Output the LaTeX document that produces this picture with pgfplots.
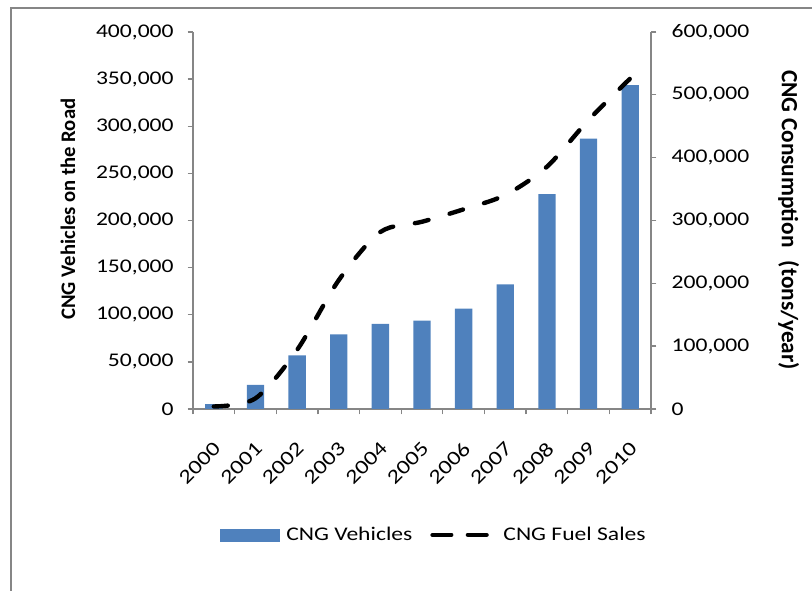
\documentclass[border=0pt]{standalone}
\usepackage{pgfplots}
\pgfplotsset{compat=1.18}
\usepackage{fontspec}
\setmainfont{Carlito}[FakeStretch=1.22]
\newfontfamily\labfont{Carlito}
\definecolor{barblue}{HTML}{4F81BD}
\definecolor{axgray}{HTML}{868686}
\newcommand{\tickfont}{\fontsize{14.5}{17}\selectfont}
\begin{document}
\begin{tikzpicture}[x=0.75pt,y=0.75pt]
\useasboundingbox (0,0) rectangle (812,591);
\draw[axgray, line width=1.1pt] (11,0) -- (11,583) -- (812,583);
\begin{axis}[
  at={(144.75pt,136.5pt)}, anchor=south west,
  scale only axis, width=343.5pt, height=282.75pt,
  xmin=-0.5, xmax=10.5, ymin=0, ymax=400000,
  axis y line*=left, axis x line*=bottom,
  axis line style={axgray, line width=1pt, -},
  tick style={axgray, line width=1pt},
  tick align=outside, major tick length=4pt,
  xtick={-0.5,0.5,1.5,2.5,3.5,4.5,5.5,6.5,7.5,8.5,9.5,10.5},
  x tick label as interval,
  xticklabels={2000,2001,2002,2003,2004,2005,2006,2007,2008,2009,2010},
  ytick={0,50000,100000,150000,200000,250000,300000,350000,400000},
  scaled y ticks=false,
  /pgf/number format/assume math mode=true,
  yticklabel style={/pgf/number format/fixed, /pgf/number format/1000 sep={,}, font=\tickfont, xshift=-7pt},
  xticklabel style={font=\fontsize{15}{17}\selectfont, xshift=5pt, yshift=-21pt, rotate=45, anchor=east},
  ylabel={\labfont\bfseries CNG Vehicles on the Road},
  ylabel style={at={(axis description cs:-0.273,0.53)}, anchor=center, rotate=0, font=\fontsize{15.5}{18}\selectfont},
  clip=false,
]
\addplot[ybar, bar width=13pt, fill=barblue, draw=none] coordinates {
(0,5300) (1,25500) (2,57000) (3,79300) (4,90200) (5,93700) (6,106400) (7,132300) (8,228000) (9,286800) (10,343500)};
\end{axis}
\begin{axis}[
  at={(144.75pt,136.5pt)}, anchor=south west,
  scale only axis, width=343.5pt, height=282.75pt,
  xmin=-0.5, xmax=10.5, ymin=0, ymax=600000,
  axis y line*=right, axis x line=none,
  axis line style={axgray, line width=1pt, -},
  tick style={axgray, line width=1pt},
  tick align=outside, major tick length=4pt,
  ytick={0,100000,200000,300000,400000,500000,600000},
  scaled y ticks=false,
  /pgf/number format/assume math mode=true,
  yticklabel style={/pgf/number format/fixed, /pgf/number format/1000 sep={,}, font=\tickfont, xshift=8pt},
  ylabel={\labfont\bfseries CNG Consumption\hspace{10pt}(tons/year)},
  ylabel style={at={(axis description cs:1.3005,0.501)}, anchor=center, rotate=180, font=\fontsize{17.5}{20}\selectfont},
  clip=false,
  legend style={at={(0.527,-0.334)}, anchor=center, draw=none, fill=none, legend columns=2,
    font=\tickfont, /tikz/every even column/.append style={column sep=11.5pt},
    legend cell align=left},
]
\addlegendimage{legend image code/.code={\fill[barblue] (0pt,-4.5pt) rectangle (44pt,4.5pt);}}
\addlegendentry{\hspace{3pt}CNG Vehicles}
\addplot[black, line width=3.3pt, dash pattern=on 10.5pt off 16.5pt, line cap=round, smooth, tension=0.5,
  legend image code/.code={\draw[black,line width=3.3pt,dash pattern=on 14pt off 12.5pt,line cap=round] (1.5pt,0pt) -- (42pt,0pt);}]
coordinates {
(0,4000) (1,17000) (2,94000) (3,205000) (4,281700) (5,298000) (6,317800) (7,340600) (8,385600) (9,460000) (10,526000)};
\addlegendentry{\hspace{9pt}CNG Fuel Sales}
\end{axis}
\end{tikzpicture}
\end{document}
